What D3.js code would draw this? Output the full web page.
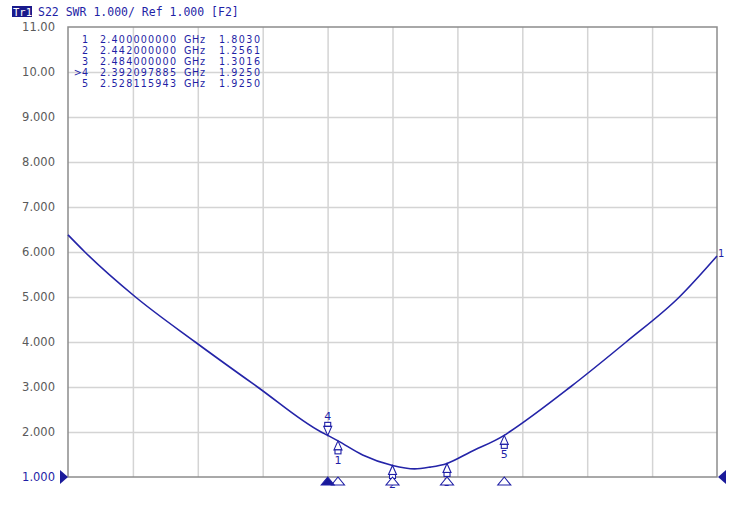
<!DOCTYPE html>
<html>
<head>
<meta charset="utf-8">
<script src="https://cdn.jsdelivr.net/npm/d3@7"></script>
<style>
  body { margin: 0; background: #fff; }
  svg { display: block; font-family: 'DejaVu Sans', sans-serif; }
</style>
</head>
<body>
<svg id="chart"></svg>
<script>
// trace S22 SWR, frequency in GHz
const freqs = [2.192, 2.205, 2.244, 2.290, 2.338, 2.387, 2.3921, 2.400, 2.419, 2.442,
  2.459, 2.471, 2.484, 2.502, 2.528, 2.532, 2.579, 2.622, 2.663, 2.692]
const swr = [6.38, 6.00, 5.00, 4.00, 3.00, 2.00, 1.925, 1.803, 1.49, 1.2561,
  1.18, 1.22, 1.3016, 1.556, 1.925, 2.00, 3.00, 4.00, 5.00, 5.91]

const yTicks = [11, 10, 9, 8, 7, 6, 5, 4, 3, 2, 1]
const yTickLabels = ['11.00', '10.00', '9.000', '8.000', '7.000', '6.000', '5.000', '4.000', '3.000', '2.000', '1.000']
const xTicks = [2.242, 2.292, 2.342, 2.392, 2.442, 2.492, 2.542, 2.592, 2.642]

const markerIds = ['1', '2', '3', '4', '5']
const markerFreqs = [2.400000000, 2.442000000, 2.484000000, 2.392097885, 2.528115943]
const markerVals = [1.8030, 1.2561, 1.3016, 1.9250, 1.9250]
const markerFreqText = ['2.400000000', '2.442000000', '2.484000000', '2.392097885', '2.528115943']
const markerValText = ['1.8030', '1.2561', '1.3016', '1.9250', '1.9250']
const activeMarker = '4'

const header = 'S22 SWR 1.000/ Ref 1.000 [F2]'

const W = 738
const H = 523
const blue = '#1f1fa6'
const traceColor = '#2424a8'

const svg = d3.select('#chart').attr('width', W).attr('height', H)

const x = d3.scaleLinear().domain([2.192, 2.692]).range([68, 717])
const y = d3.scaleLinear().domain([1, 11]).range([477, 27])

// grid
svg.append('g')
  .attr('transform', `translate(${x.range()[0]},0)`)
  .call(d3.axisLeft(y).tickValues(yTicks.slice(1, -1)).tickSize(-(x.range()[1] - x.range()[0])).tickFormat(''))
  .call(g => g.select('.domain').remove())
  .call(g => g.selectAll('line').attr('stroke', '#d4d4d4').attr('stroke-width', 1.5))

svg.append('g')
  .attr('transform', `translate(0,${y(1)})`)
  .call(d3.axisBottom(x).tickValues(xTicks).tickSize(-(y(1) - y(11))).tickFormat(''))
  .call(g => g.select('.domain').remove())
  .call(g => g.selectAll('line').attr('stroke', '#d4d4d4').attr('stroke-width', 1.5))

// frame
svg.append('rect')
  .attr('x', x.range()[0]).attr('y', y(11))
  .attr('width', x.range()[1] - x.range()[0]).attr('height', y(1) - y(11))
  .attr('fill', 'none').attr('stroke', '#8c8c8c').attr('stroke-width', 1.5)

// y labels
svg.append('g').selectAll('text').data(yTicks).enter().append('text')
  .attr('x', 55)
  .attr('y', d => y(d))
  .attr('dy', '0.36em')
  .attr('text-anchor', 'end')
  .attr('font-size', 11.5)
  .attr('fill', (d, i) => i === yTicks.length - 1 ? blue : '#5a5a5a')
  .text((d, i) => yTickLabels[i])

// reference level arrows
svg.append('path')
  .attr('d', `M${x.range()[0] - 8},${y(1) - 7}L${x.range()[0]},${y(1)}L${x.range()[0] - 8},${y(1) + 7}Z`)
  .attr('fill', '#1a1a9a')
svg.append('path')
  .attr('d', `M${x.range()[1] + 9},${y(1) - 7}L${x.range()[1] + 1},${y(1)}L${x.range()[1] + 9},${y(1) + 7}Z`)
  .attr('fill', '#1a1a9a')

// header
svg.append('rect').attr('x', 12).attr('y', 6).attr('width', 20).attr('height', 11).attr('fill', '#1a1a8c')
svg.append('text').attr('x', 13).attr('y', 15.5).attr('font-size', 10.5).attr('fill', '#fff')
  .attr('font-family', 'DejaVu Sans Mono, monospace').text('Tr1')
svg.append('text').attr('x', 38).attr('y', 16).attr('font-size', 11.5).attr('fill', blue)
  .attr('font-family', 'DejaVu Sans Mono, monospace').attr('xml:space', 'preserve').text(header)

// marker table
const table = svg.append('g').attr('font-size', 9.6).attr('fill', blue)
markerIds.forEach((id, i) => {
  const by = 43 + i * 11.1
  table.append('text').attr('x', 88).attr('y', by).attr('text-anchor', 'end')
    .text((id === activeMarker ? '>' : '') + id)
  table.append('text').attr('x', 100).attr('y', by).attr('textLength', 76).text(markerFreqText[i])
  table.append('text').attr('x', 184).attr('y', by).attr('textLength', 21).text('GHz')
  table.append('text').attr('x', 219).attr('y', by).attr('textLength', 41).text(markerValText[i])
})

// trace
const line = d3.line()
  .x((d, i) => x(freqs[i]))
  .y(d => y(d))
  .curve(d3.curveMonotoneX)

svg.append('path')
  .datum(swr)
  .attr('d', line)
  .attr('fill', 'none')
  .attr('stroke', traceColor)
  .attr('stroke-width', 1.6)

// trace end label
svg.append('text')
  .attr('x', x(freqs[freqs.length - 1]) + 1)
  .attr('y', y(swr[swr.length - 1]) + 1)
  .attr('font-size', 10).attr('fill', blue)
  .text('1')

// markers on trace
const mk = svg.append('g').attr('stroke', blue).attr('fill', '#fff').attr('stroke-width', 1.1)
markerIds.forEach((id, i) => {
  const mx = x(markerFreqs[i])
  const my = y(markerVals[i])
  if (id === activeMarker) {
    mk.append('rect').attr('x', mx - 3).attr('y', my - 13).attr('width', 6).attr('height', 4)
    mk.append('path').attr('d', `M${mx - 4},${my - 9}L${mx + 4},${my - 9}L${mx},${my}Z`)
    svg.append('text').attr('x', mx).attr('y', my - 15).attr('text-anchor', 'middle')
      .attr('font-size', 11).attr('fill', blue).text(id)
  } else {
    mk.append('path').attr('d', `M${mx},${my}L${mx + 4},${my + 9}L${mx - 4},${my + 9}Z`)
    mk.append('rect').attr('x', mx - 3).attr('y', my + 9).attr('width', 6).attr('height', 4)
    svg.append('text').attr('x', mx).attr('y', my + 23).attr('text-anchor', 'middle')
      .attr('font-size', 11).attr('fill', blue).text(id)
  }
})

// markers on stimulus axis
markerIds.forEach((id, i) => {
  const mx = x(markerFreqs[i])
  svg.append('path')
    .attr('d', `M${mx},${y(1)}L${mx + 6.5},${y(1) + 8}L${mx - 6.5},${y(1) + 8}Z`)
    .attr('fill', id === activeMarker ? '#1a1a9a' : '#fff')
    .attr('stroke', blue).attr('stroke-width', 1.1)
})
</script>
</body>
</html>
